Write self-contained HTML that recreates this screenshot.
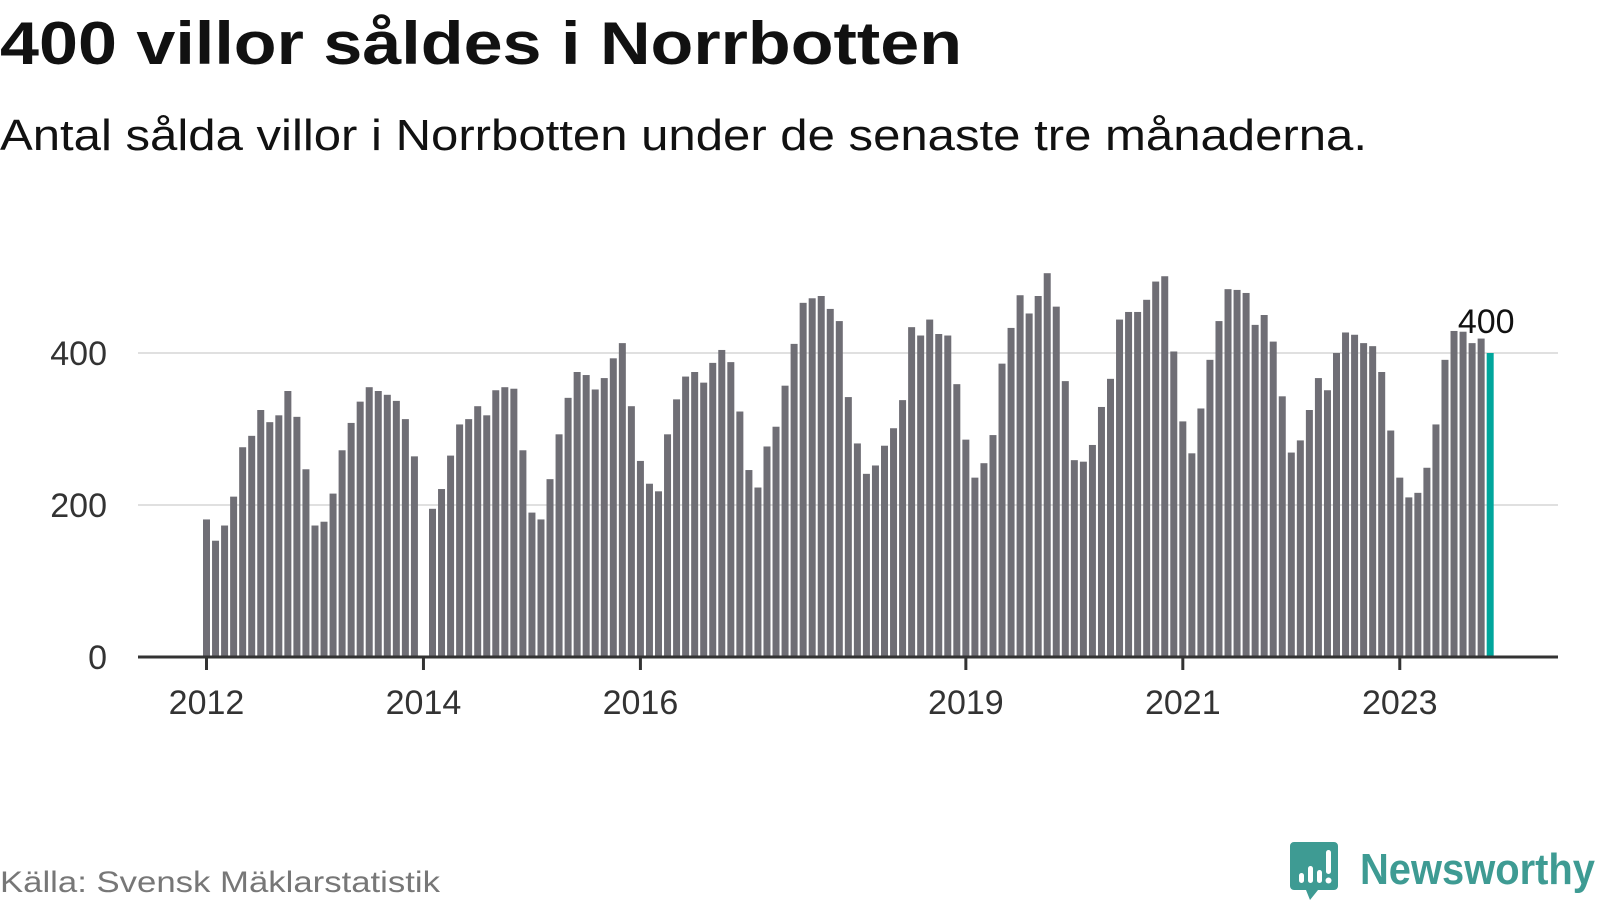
<!DOCTYPE html>
<html><head><meta charset="utf-8"><style>
html,body{margin:0;padding:0;background:#fff;}
svg{display:block;font-family:"Liberation Sans",sans-serif;}
</style></head><body>
<svg id="chart" width="1600" height="900" viewBox="0 0 1600 900">
<text x="0" y="64" font-size="60" font-weight="bold" fill="#111" textLength="962" lengthAdjust="spacingAndGlyphs">400 villor såldes i Norrbotten</text>
<text x="0" y="150" font-size="44" fill="#111" textLength="1367" lengthAdjust="spacingAndGlyphs">Antal sålda villor i Norrbotten under de senaste tre månaderna.</text>
<g id="grid"></g>
<g id="bars"></g>
<g id="axis"></g>
<text x="0" y="892" font-size="30" fill="#777" textLength="440" lengthAdjust="spacingAndGlyphs">Källa: Svensk Mäklarstatistik</text>
<g>
<path d="M1294 842 h40 a4 4 0 0 1 4 4 v40 a4 4 0 0 1 -4 4 h-16 l-8 10 l-4 -10 h-12 a4 4 0 0 1 -4 -4 v-40 a4 4 0 0 1 4 -4z" fill="#3e9b93"/>
<rect x="1299" y="873" width="5" height="10" rx="2.5" fill="#fff"/>
<rect x="1308" y="866" width="5" height="17" rx="2.5" fill="#fff"/>
<rect x="1317" y="870" width="5" height="13" rx="2.5" fill="#fff"/>
<rect x="1326" y="850" width="5" height="24" rx="2.5" fill="#fff"/>
<circle cx="1328.5" cy="880.5" r="3" fill="#fff"/>
<text x="1360" y="884" font-size="44" font-weight="bold" fill="#3e9b93" textLength="235" lengthAdjust="spacingAndGlyphs">Newsworthy</text>
</g>
</svg>
<script>
const values = [
181,153,173,211,276,291,325,309,318,350,316,247,
173,178,215,272,308,336,355,350,345,337,313,264,
null,195,221,265,306,313,330,318,351,355,353,272,
190,181,234,293,341,375,371,352,367,393,413,330,
258,228,218,293,339,369,375,361,387,404,388,323,
246,223,277,303,357,412,466,472,475,458,442,342,
281,241,252,278,301,338,434,423,444,425,423,359,
286,236,255,292,386,433,476,452,475,505,461,363,
259,257,279,329,366,444,454,454,470,494,501,402,
310,268,327,391,442,484,483,479,437,450,415,343,
269,285,325,367,351,400,427,424,413,409,375,298,
236,210,216,249,306,391,429,428,413,419,400];
const startYear = 2012;
const yTicks = [0,200,400];
const xTickYears = [2012,2014,2016,2019,2021,2023];
const NS="http://www.w3.org/2000/svg";
const x0=138,x1=1558,base=657,pxPerUnit=0.76,jan2012=206.5,step=9.04,bw=7;
function y(v){return base-v*pxPerUnit;}
function xm(i){return jan2012+i*step;}
function mk(tag,attrs,parent){const e=document.createElementNS(NS,tag);for(const k in attrs)e.setAttribute(k,attrs[k]);parent.appendChild(e);return e;}
const grid=document.getElementById('grid'),bars=document.getElementById('bars'),axis=document.getElementById('axis');
yTicks.forEach(t=>{
  if(t>0){const l=mk('line',{x1:x0,x2:x1,y1:y(t),y2:y(t),stroke:'#e0e0e0','stroke-width':2},grid);
  
  }
  const tx=mk('text',{x:107,y:y(t)+12,'font-size':34,fill:'#333','text-anchor':'end'},grid);
  tx.textContent=t;
  
  
});
const last=values.length-1;
values.forEach((v,i)=>{
  if(v==null)return;
  const r=mk('rect',{x:xm(i)-bw/2,y:y(v),width:bw,height:v*pxPerUnit,fill:i===last?'#00a69c':'#6f6e75'},bars);
  
  
});
const lbl=mk('text',{x:xm(last)-4,y:y(values[last])-20,'font-size':34,fill:'#111','text-anchor':'middle'},bars);
lbl.textContent=values[last];


const bl=mk('line',{x1:x0,x2:x1,y1:base,y2:base,stroke:'#333','stroke-width':3},axis);


xTickYears.forEach(yr=>{
  const xx=xm((yr-startYear)*12);
  const tk=mk('line',{x1:xx,x2:xx,y1:base,y2:base+13,stroke:'#333','stroke-width':3},axis);
  
  
  const tx=mk('text',{x:xx,y:714,'font-size':34,fill:'#333','text-anchor':'middle'},axis);
  tx.textContent=yr;
  
  
});
</script>
</body></html>
